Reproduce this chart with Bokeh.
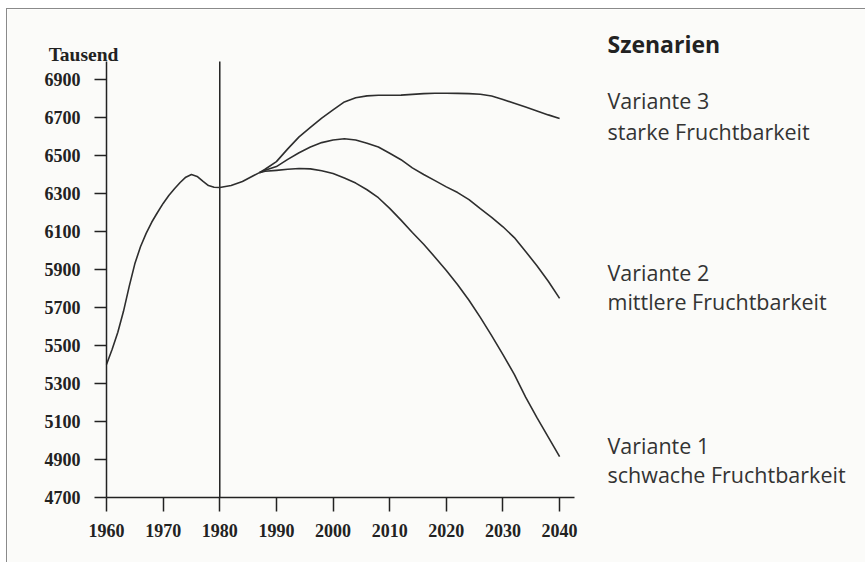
from bokeh.plotting import figure
from bokeh.models import Range1d, FixedTicker, Label
from bokeh.embed import file_html
from bokeh.resources import INLINE

# ---------------- data ----------------
x_ticks = [1960, 1970, 1980, 1990, 2000, 2010, 2020, 2030, 2040]
y_ticks = [4700, 4900, 5100, 5300, 5500, 5700, 5900, 6100, 6300, 6500, 6700, 6900]

hist_years = [1960, 1961, 1962, 1963, 1964, 1965, 1966, 1967, 1968, 1969, 1970,
              1971, 1972, 1973, 1974, 1975, 1976, 1977, 1978, 1979, 1980,
              1982, 1984, 1986, 1987]
hist_pop = [5400, 5480, 5570, 5680, 5810, 5930, 6020, 6090, 6150, 6200, 6248,
            6290, 6325, 6358, 6386, 6400, 6390, 6365, 6342, 6333, 6332,
            6342, 6363, 6395, 6410]

proj_years = [1987, 1988, 1990, 1992, 1994, 1996, 1998, 2000, 2002, 2004, 2006,
              2008, 2010, 2012, 2014, 2016, 2018, 2020, 2022, 2024, 2026, 2028,
              2030, 2032, 2034, 2036, 2038, 2040]
var3 = [6410, 6428, 6468, 6535, 6598, 6648, 6697, 6740, 6782, 6804, 6814,
        6817, 6817, 6818, 6822, 6826, 6828, 6828, 6827, 6826, 6823, 6813,
        6795, 6775, 6755, 6735, 6714, 6695]
var2 = [6410, 6422, 6442, 6480, 6515, 6545, 6568, 6582, 6588, 6582, 6565,
        6545, 6512, 6478, 6435, 6400, 6368, 6335, 6305, 6268, 6220, 6175,
        6125, 6068, 5995, 5920, 5838, 5748]
var1 = [6410, 6417, 6422, 6428, 6432, 6430, 6420, 6405, 6382, 6355, 6320,
        6278, 6222, 6160, 6095, 6033, 5965, 5895, 5820, 5738, 5648, 5552,
        5452, 5348, 5228, 5120, 5018, 4915]

y_title = "Tausend"
legend_title = "Szenarien"
scenario_labels = [
    ("Variante 3", "starke Fruchtbarkeit"),
    ("Variante 2", "mittlere Fruchtbarkeit"),
    ("Variante 1", "schwache Fruchtbarkeit"),
]

# ---------------- layout ----------------
X0, XB = 1960, 2042.63      # x-axis line drawn from X0 to XB
Y0, YB = 4700, 6995         # y-axis line drawn from Y0 to YB
SX = 468 / (XB - X0)        # px per year
SY = 436 / (YB - Y0)        # px per thousand
W, H = 858, 553             # figure = frame (axes are fixed inside it)
ORG_X, ORG_Y = 7, 9         # page pixel of figure's top-left (margin + border)
PX_L, PX_B = 106, 497       # page pixel of (X0, Y0)

XS = X0 - (PX_L - ORG_X) / SX
XE = XS + W / SX
YS = Y0 - (ORG_Y + H - PX_B) / SY
YE = YS + H / SY

def dx(px):
    return X0 + (px - PX_L) / SX

def dy(py):
    return Y0 + (PX_B - py) / SY

BG = "#fbfbf9"
INK = "#222222"
LINE = "#2e2e2e"

p = figure(frame_width=W, frame_height=H,
           min_border_left=0, min_border_top=0,
           min_border_right=0, min_border_bottom=0,
           x_range=Range1d(XS, XE), y_range=Range1d(YS, YE),
           output_backend="svg", toolbar_location=None,
           background_fill_color=BG, border_fill_color=BG)
p.outline_line_color = None
p.grid.visible = False
p.margin = (8, 0, 0, 6)
p.styles = {"border-top": "1px solid #8a8a8a", "border-left": "1px solid #8a8a8a"}

for ax in (p.xaxis[0], p.yaxis[0]):
    ax.axis_line_color = INK
    ax.axis_line_width = 1.5
    ax.major_tick_line_color = INK
    ax.major_tick_line_width = 1.5
    ax.major_tick_in = 0
    ax.minor_tick_line_color = None
    ax.major_label_text_font = "Liberation Serif"
    ax.major_label_text_font_style = "bold"
    ax.major_label_text_font_size = "18px"
    ax.major_label_text_color = INK

p.xaxis.ticker = FixedTicker(ticks=x_ticks)
p.yaxis.ticker = FixedTicker(ticks=y_ticks)
p.xaxis.bounds = (X0, XB)
p.yaxis.bounds = (Y0, YB)
p.xaxis.fixed_location = Y0
p.yaxis.fixed_location = X0
p.xaxis.major_tick_out = 14
p.xaxis.major_label_standoff = 12
p.yaxis.major_tick_out = 12
p.yaxis.major_label_standoff = 14

# vertical line at 1980 (start of the forecast)
p.segment(x0=[1980], y0=[Y0], x1=[1980], y1=[YB], line_color=INK, line_width=1.5)

# curves
p.line(hist_years, hist_pop, line_color=LINE, line_width=1.6, line_join="round")
for ser in (var3, var2, var1):
    p.line(proj_years, ser, line_color=LINE, line_width=1.6, line_join="round")

# texts
p.add_layout(Label(x=dx(83), y=dy(54), text=y_title, text_align="center",
                   text_baseline="alphabetic", text_font="Liberation Serif",
                   text_font_style="bold", text_font_size="19.5px", text_color=INK))

TX = dx(607)
p.add_layout(Label(x=TX, y=dy(43), text=legend_title, text_align="left",
                   text_baseline="middle", text_font="Open Sans",
                   text_font_style="bold", text_font_size="23px", text_color=INK))
centers = [(100, 131), (272, 301), (445, 474)]
for (l1, l2), (c1, c2) in zip(scenario_labels, centers):
    p.add_layout(Label(x=TX, y=dy(c1), text=l1, text_align="left",
                       text_baseline="middle", text_font="Open Sans",
                       text_font_size="21.5px", text_color="#333333"))
    p.add_layout(Label(x=TX, y=dy(c2), text=l2, text_align="left",
                       text_baseline="middle", text_font="Open Sans",
                       text_font_size="21.5px", text_color="#333333"))

open("out.html", "w").write(file_html(p, INLINE))
